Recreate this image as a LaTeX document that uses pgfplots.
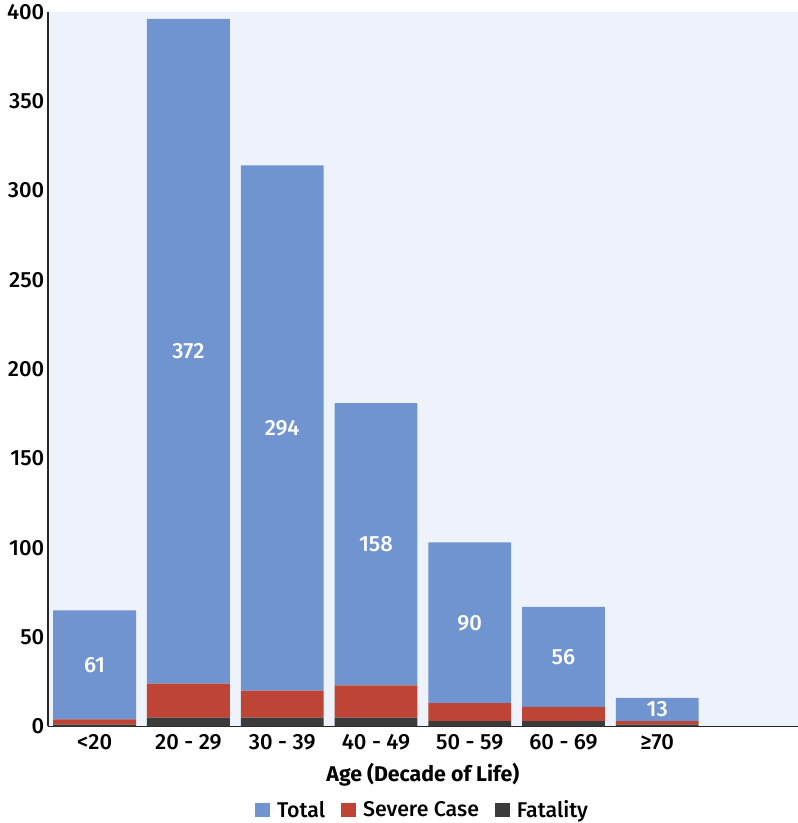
\documentclass[border=0pt]{standalone}
\usepackage{fontspec}
\setmainfont{Fira Sans}[UprightFont={Fira Sans Medium}, BoldFont={Fira Sans Bold}]
\newfontface\labelbf{Fira Sans Bold}
\usepackage{pgfplots}
\pgfplotsset{compat=1.18}
\definecolor{cTotal}{HTML}{7094D0}
\definecolor{cSevere}{HTML}{BE4535}
\definecolor{cFatal}{HTML}{3B3B3B}
\definecolor{cBg}{HTML}{EEF2FA}
\begin{document}
\begin{tikzpicture}
\path[use as bounding box] (-35.8pt,-72.4pt) rectangle (562.7pt,544.9pt);
\pgfplotsset{
  common/.style={
    at={(0,0)}, anchor=south west,
    scale only axis, width=562.7pt, height=536.1pt,
    xmin=-0.5, xmax=7.5, ymin=0, ymax=400,
  }
}
\begin{axis}[
  common,
  ybar stacked, bar width=0.883,
  xtick={0,1,2,3,4,5,6},
  xticklabels={<20,20 - 29,30 - 39,40 - 49,50 - 59,60 - 69,≥70},
  ytick={0,50,100,150,200,250,300,350,400},
  axis x line*=bottom, axis y line*=left,
  axis line style={line width=1.4pt, color=black!85, -},
  major tick length=0pt,
  axis background/.style={fill=cBg},
  tick label style={font=\fontsize{16.5}{19}\selectfont},
  yticklabel style={xshift=1pt},
  /pgf/number format/assume math mode=true,
  xticklabel style={yshift=-2.5pt},
  xlabel={Age (Decade of Life)},
  xlabel style={font=\labelbf\fontsize{16}{19}\selectfont, at={(axis description cs:0.5,-0.0679)}, anchor=center},
  legend style={at={(axis description cs:0.5,-0.1168)}, anchor=center, draw=none, fill=none,
    font=\fontsize{16}{19}\selectfont, legend columns=3,
    /tikz/every even column/.append style={column sep=10pt}},
  legend image code/.code={\fill[#1] (0pt,-5.5pt) rectangle (11pt,5.5pt); \path (0pt,0pt) -- (14.5pt,0pt);},
  reverse legend,
]
\addplot[fill=cFatal, draw=none] coordinates {(0,1) (1,5) (2,5) (3,5) (4,3) (5,3) (6,1)};
\addlegendentry{Fatality}
\addplot[fill=cSevere, draw=none] coordinates {(0,3) (1,19) (2,15) (3,18) (4,10) (5,8) (6,2)};
\addlegendentry{Severe Case}
\addplot[fill=cTotal, draw=none] coordinates {(0,61) (1,372) (2,294) (3,158) (4,90) (5,56) (6,13)};
\addlegendentry{Total}
\end{axis}
\begin{axis}[
  common,
  hide axis,
]
\addplot[draw=none, mark=none, nodes near coords, nodes near coords align={center},
  point meta=explicit symbolic,
  every node near coord/.append style={text=white, font=\fontsize{16.5}{19}\selectfont}]
  coordinates {(0,34.5)[61] (1,210)[372] (2,167)[294] (3,102)[158] (4,58)[90] (5,39)[56] (6,9.5)[13]};
\end{axis}
\end{tikzpicture}
\end{document}
